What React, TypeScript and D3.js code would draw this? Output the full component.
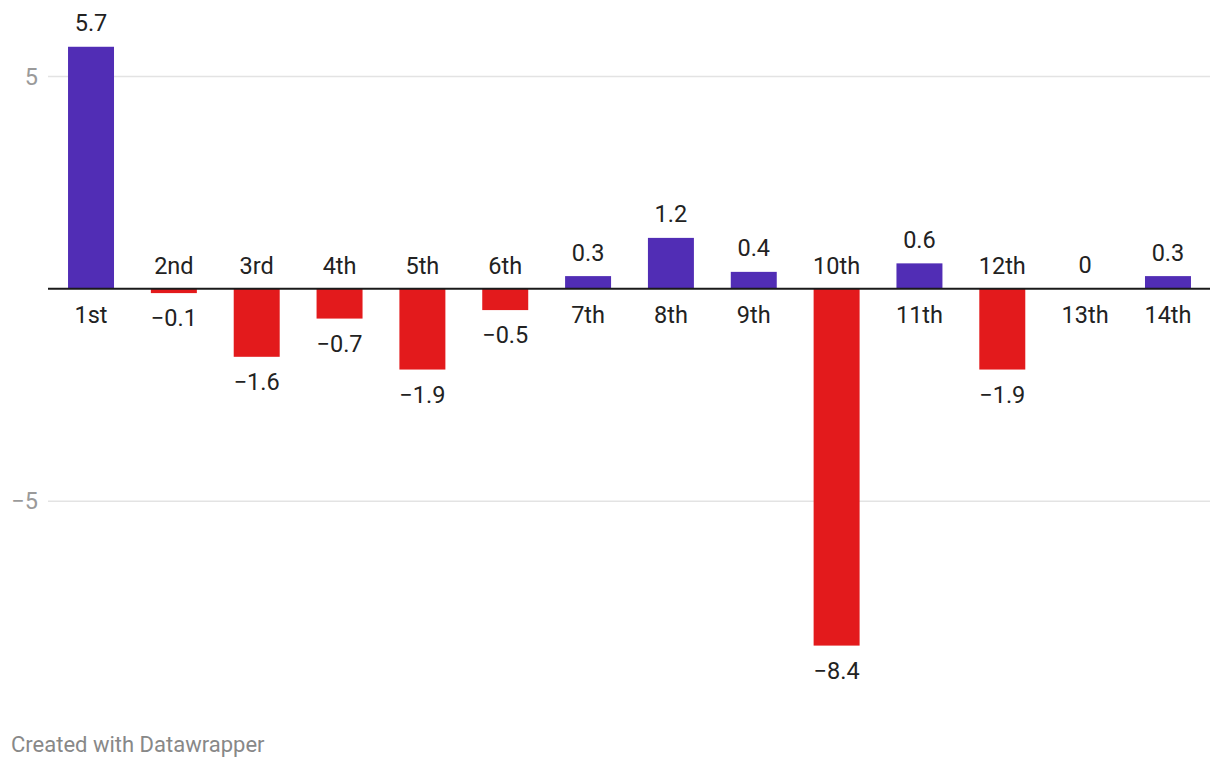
import React from "react";
import * as d3 from "d3";

const categories = ["1st", "2nd", "3rd", "4th", "5th", "6th", "7th", "8th", "9th", "10th", "11th", "12th", "13th", "14th"];
const values = [5.7, -0.1, -1.6, -0.7, -1.9, -0.5, 0.3, 1.2, 0.4, -8.4, 0.6, -1.9, 0, 0.3];
const yTicks = [-5, 5];

const W = 1220;
const H = 768;
const POS = "#512db5";
const NEG = "#e31a1c";
const FONT = "Roboto, 'Noto Sans', sans-serif";
const FS = 23.5;

const fmt = (v: number) => (v < 0 ? "\u2212" + Math.abs(v) : String(v));

export default function App() {
  const x = d3.scaleBand<string>().domain(categories).range([49.6, 1209.4]).paddingInner(0.445).paddingOuter(0.2225);
  const y = d3.scaleLinear().domain([-5, 5]).range([501.2, 76.5]);
  const y0 = y(0);
  const bw = x.bandwidth();

  return (
    <svg width={W} height={H} style={{ position: "absolute", left: 0, top: 0, background: "#fff" }}>
      {yTicks.map((t) => (
        <g key={t}>
          <line x1={48} x2={1210} y1={y(t)} y2={y(t)} stroke="#e3e3e3" strokeWidth={1.5} />
          <text x={38} y={y(t)} dy="0.35em" textAnchor="end" fontFamily={FONT} fontSize={FS} fill="#9a9a9a">
            {fmt(t)}
          </text>
        </g>
      ))}
      {categories.map((c, i) => {
        const v = values[i];
        const top = y(Math.max(v, 0));
        const bot = y(Math.min(v, 0));
        const cx = (x(c) as number) + bw / 2;
        const neg = v < 0;
        return (
          <g key={c}>
            <rect x={x(c)} y={top} width={bw} height={Math.max(0, bot - top)} fill={neg ? NEG : POS} />
            {neg ? (
              <>
                <text x={cx} y={y0 - 15} textAnchor="middle" fontFamily={FONT} fontSize={FS} fill="#222">{c}</text>
                <text x={cx} y={bot + 33} textAnchor="middle" fontFamily={FONT} fontSize={FS} fill="#222">{fmt(v)}</text>
              </>
            ) : (
              <>
                <text x={cx} y={top - 15.5} textAnchor="middle" fontFamily={FONT} fontSize={FS} fill="#222">{fmt(v)}</text>
                <text x={cx} y={y0 + 34.5} textAnchor="middle" fontFamily={FONT} fontSize={FS} fill="#222">{c}</text>
              </>
            )}
          </g>
        );
      })}
      <line x1={48} x2={1210} y1={y0} y2={y0} stroke="#1a1a1a" strokeWidth={2} />
      <text x={11} y={752} fontFamily={FONT} fontSize={22} fill="#888">Created with Datawrapper</text>
    </svg>
  );
}
